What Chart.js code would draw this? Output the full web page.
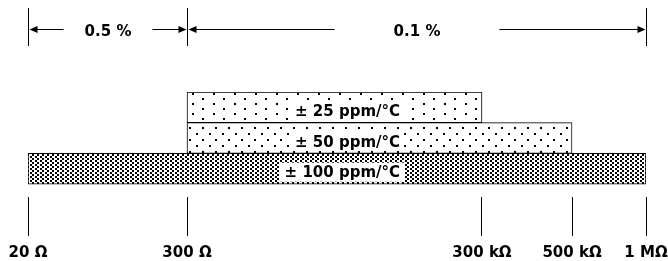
<!DOCTYPE html>
<html>
<head>
<meta charset="utf-8">
<script src="https://cdn.jsdelivr.net/npm/chart.js@4.4.0/dist/chart.umd.min.js"></script>
<style>
  body { margin: 0; background: #fff; }
</style>
</head>
<body>
<canvas id="tcrChart" width="668" height="261"></canvas>
<script>
  /** TCR bands over the resistance range */
  const categories = ['± 25 ppm/°C', '± 50 ppm/°C', '± 100 ppm/°C'];
  const rangeLow = [300, 300, 20];
  const rangeHigh = [300000, 500000, 1000000];

  /** resistance ticks along the bottom */
  const tickOhms = [20, 300, 300000, 500000, 1000000];
  const tickLabels = ['20 Ω', '300 Ω', '300 kΩ', '500 kΩ', '1 MΩ'];

  /** tolerance spans along the top */
  const tolFrom = [20, 300];
  const tolTo = [300, 1000000];
  const tolLabels = ['0.5 %', '0.1 %'];

  // the drawing is not to scale: each tick sits at its own fraction of the axis
  const axisStops = [0, 0.2573, 0.7346, 0.8803, 1];
  const FONT = 'bold 15px "DejaVu Sans"';

  class StepLogScale extends Chart.LinearScale {
    buildTicks() {
      return tickOhms.map((v) => ({ value: v }));
    }
    decimalFor(v) {
      const lv = Math.log10(v);
      const logs = tickOhms.map((t) => Math.log10(t));
      if (lv <= logs[0]) return axisStops[0];
      for (let i = 0; i < logs.length - 1; i++) {
        if (lv <= logs[i + 1]) {
          const f = (lv - logs[i]) / (logs[i + 1] - logs[i]);
          return axisStops[i] + f * (axisStops[i + 1] - axisStops[i]);
        }
      }
      return axisStops[axisStops.length - 1];
    }
    getPixelForValue(v) {
      return this.getPixelForDecimal(this.decimalFor(v));
    }
    getValueForPixel(px) {
      const d = this.getDecimalForPixel(px);
      const logs = tickOhms.map((t) => Math.log10(t));
      for (let i = 0; i < axisStops.length - 1; i++) {
        if (d <= axisStops[i + 1]) {
          const f = (d - axisStops[i]) / (axisStops[i + 1] - axisStops[i]);
          return Math.pow(10, logs[i] + f * (logs[i + 1] - logs[i]));
        }
      }
      return tickOhms[tickOhms.length - 1];
    }
  }
  StepLogScale.id = 'steplog';
  StepLogScale.defaults = Chart.LinearScale.defaults;
  Chart.register(StepLogScale);

  function dotPattern(w, h, dots) {
    const c = document.createElement('canvas');
    c.width = w;
    c.height = h;
    const g = c.getContext('2d');
    g.fillStyle = '#fff';
    g.fillRect(0, 0, w, h);
    g.fillStyle = '#000';
    dots.forEach(([x, y]) => g.fillRect(x, y, 2, 2));
    return g.createPattern(c, 'repeat');
  }

  const patterns = [
    dotPattern(21, 10, [[3, 3], [13, 8]]),
    dotPattern(13, 12, [[1, 1], [7, 7]]),
    dotPattern(5, 4, [[0, 0], [2, 2]])
  ];

  // white box + text inside each bar
  const barLabels = {
    id: 'barLabels',
    afterDatasetsDraw(chart) {
      const ctx = chart.ctx;
      const area = chart.chartArea;
      const right = area.left + area.width * 0.602;
      ctx.save();
      ctx.font = FONT;
      ctx.textAlign = 'right';
      ctx.textBaseline = 'alphabetic';
      chart.getDatasetMeta(0).data.forEach((bar, i) => {
        const w = ctx.measureText(categories[i]).width;
        ctx.fillStyle = '#fff';
        ctx.fillRect(right - w - 5, bar.y - 6, w + 9, 19);
        ctx.fillStyle = '#000';
        ctx.fillText(categories[i], right, bar.y + 8.5);
      });
      ctx.restore();
    }
  };

  // dimension arrows with tolerance text above the chart
  const tolerance = {
    id: 'tolerance',
    afterDraw(chart) {
      const ctx = chart.ctx;
      const xs = chart.scales.x;
      const yTop = 8, yBot = 46, yArr = 29.5;
      const gaps = [21, 59];
      ctx.save();
      ctx.strokeStyle = '#000';
      ctx.fillStyle = '#000';
      ctx.lineWidth = 1;
      ctx.font = FONT;
      ctx.textAlign = 'center';
      ctx.textBaseline = 'alphabetic';
      tolFrom.forEach((from, i) => {
        const x1 = Math.round(xs.getPixelForValue(from)) + 0.5;
        const x2 = Math.round(xs.getPixelForValue(tolTo[i])) + 0.5;
        const cx = (x1 + x2) / 2;
        const tw = ctx.measureText(tolLabels[i]).width;
        ctx.beginPath();
        ctx.moveTo(x1, yTop); ctx.lineTo(x1, yBot);
        ctx.moveTo(x2, yTop); ctx.lineTo(x2, yBot);
        ctx.moveTo(x1 + 6, yArr); ctx.lineTo(cx - tw / 2 - gaps[i], yArr);
        ctx.moveTo(cx + tw / 2 + gaps[i], yArr); ctx.lineTo(x2 - 6, yArr);
        ctx.stroke();
        ctx.beginPath();
        ctx.moveTo(x1 + 1, yArr); ctx.lineTo(x1 + 9, yArr - 3.5); ctx.lineTo(x1 + 9, yArr + 3.5);
        ctx.closePath();
        ctx.moveTo(x2 - 1, yArr); ctx.lineTo(x2 - 9, yArr - 3.5); ctx.lineTo(x2 - 9, yArr + 3.5);
        ctx.closePath();
        ctx.fill();
        ctx.fillText(tolLabels[i], cx, 36);
      });
      ctx.restore();
    }
  };

  const chart = new Chart(document.getElementById('tcrChart'), {
    type: 'bar',
    data: {
      datasets: [{
        data: categories.map((c, i) => ({ y: i, x: [rangeLow[i], rangeHigh[i]] })),
        backgroundColor: patterns,
        borderColor: '#000',
        borderWidth: 1,
        borderSkipped: false,
        barPercentage: 1,
        categoryPercentage: 1
      }]
    },
    options: {
      indexAxis: 'y',
      responsive: false,
      devicePixelRatio: 1,
      animation: false,
      layout: { padding: { top: 92, left: 28, right: 22, bottom: 0 } },
      plugins: {
        legend: { display: false },
        tooltip: { enabled: false }
      },
      scales: {
        x: {
          type: 'steplog',
          min: 20,
          max: 1000000,
          border: { display: false },
          grid: { drawOnChartArea: false, drawTicks: true, tickLength: 39, color: '#000', lineWidth: 1 },
          ticks: {
            autoSkip: false,
            maxRotation: 0,
            padding: 10,
            color: '#000',
            font: { family: 'DejaVu Sans', size: 15, weight: 'bold', lineHeight: 1 },
            callback: (v, i) => tickLabels[i]
          },
          afterFit: (scale) => {
            // labels may overhang the plot edges, as in the original drawing
            scale.height = 64;
            scale.paddingLeft = 0;
            scale.paddingRight = 0;
          }
        },
        y: {
          type: 'linear',
          display: false,
          offset: false,
          reverse: true,
          min: -0.5,
          max: 2.92,
          afterBuildTicks: (scale) => {
            scale.ticks = categories.map((c, i) => ({ value: i }));
          }
        }
      }
    },
    plugins: [barLabels, tolerance]
  });
</script>
</body>
</html>
